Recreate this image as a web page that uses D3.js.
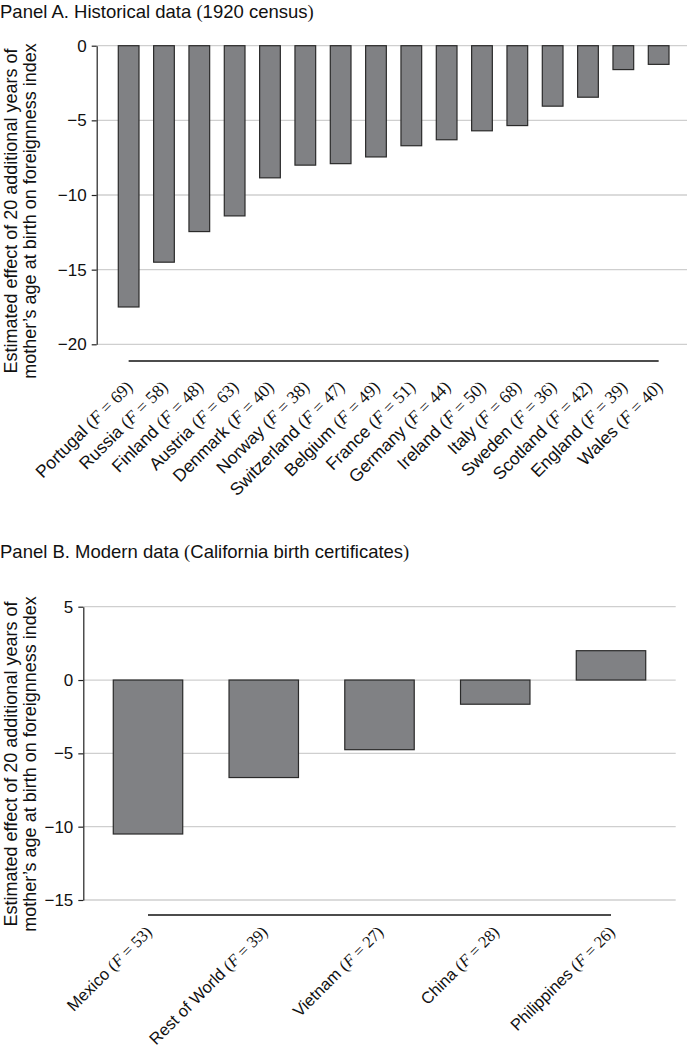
<!DOCTYPE html>
<html>
<head>
<meta charset="utf-8">
<script src="https://cdn.jsdelivr.net/npm/d3@7"></script>
<style>
  html, body { margin: 0; padding: 0; background: #fff; }
  svg { display: block; }
</style>
</head>
<body>
<script>
// ---- Data ----
const catsA = ["Portugal","Russia","Finland","Austria","Denmark","Norway","Switzerland","Belgium","France","Germany","Ireland","Italy","Sweden","Scotland","England","Wales"];
const fA = [69,58,48,63,40,38,47,49,51,44,50,68,36,42,39,40];
const valsA = [-17.5,-14.5,-12.45,-11.4,-8.85,-8.0,-7.9,-7.45,-6.7,-6.3,-5.7,-5.35,-4.05,-3.45,-1.6,-1.25];
const ticksA = [0,-5,-10,-15,-20];

const catsB = ["Mexico","Rest of World","Vietnam","China","Philippines"];
const fB = [53,39,27,28,26];
const valsB = [-10.5,-6.65,-4.75,-1.65,2.0];
const ticksB = [5,0,-5,-10,-15];

const yTitle1 = "Estimated effect of 20 additional years of";
const yTitle2 = "mother\u2019s age at birth on foreignness index";

const W = 687, H = 1050;
const SANS = "'Liberation Sans', Arial, Helvetica, sans-serif";
const SERIF = "'Liberation Serif', 'Times New Roman', serif";

const svg = d3.select("body").append("svg").attr("width", W).attr("height", H);

function panel(cfg) {
  const g = svg.append("g");
  const x = d3.scaleBand().domain(cfg.cats).range(cfg.xRange)
    .paddingInner(cfg.padIn).paddingOuter(cfg.padOut);
  const y = d3.scaleLinear().domain(cfg.yDomain).range(cfg.yRange);

  // title
  const t = g.append("text").attr("x", 0).attr("y", cfg.titleY)
    .attr("font-family", SANS).attr("font-size", 18.5).attr("fill", "#111");
  t.append("tspan").text(cfg.title[0]);
  t.append("tspan").attr("font-family", SERIF).text("(");
  t.append("tspan").text(cfg.title[1]);
  t.append("tspan").attr("font-family", SERIF).text(")");

  // gridlines
  g.append("g").selectAll("line").data(cfg.ticks).join("line")
    .attr("x1", cfg.xRange[0]).attr("x2", cfg.gridEnd)
    .attr("y1", d => y(d)).attr("y2", d => y(d))
    .attr("stroke", "#cfcfcf").attr("stroke-width", 1.3);

  // axis
  const ax = g.append("g").attr("transform", `translate(${cfg.xRange[0]},0)`)
    .call(d3.axisLeft(y).tickValues(cfg.ticks).tickSize(5).tickSizeOuter(0).tickPadding(5));
  ax.select(".domain").attr("stroke", "#222").attr("stroke-width", 1.2);
  ax.selectAll(".tick line").attr("stroke", "#222").attr("stroke-width", 1.2);
  ax.selectAll(".tick text").attr("font-family", SANS).attr("font-size", 17).attr("fill", "#111");

  // bars
  g.append("g").selectAll("rect").data(cfg.vals).join("rect")
    .attr("x", (d, i) => x(cfg.cats[i]))
    .attr("width", x.bandwidth())
    .attr("y", d => y(Math.max(0, d)))
    .attr("height", d => Math.abs(y(d) - y(0)))
    .attr("fill", "#808184").attr("stroke", "#2a2a2a").attr("stroke-width", 1.2);

  // baseline under the axis
  const c0 = x(cfg.cats[0]) + x.bandwidth() / 2;
  const c1 = x(cfg.cats[cfg.cats.length - 1]) + x.bandwidth() / 2;
  g.append("line").attr("x1", c0).attr("x2", c1)
    .attr("y1", cfg.baseY).attr("y2", cfg.baseY)
    .attr("stroke", "#111").attr("stroke-width", 1.6);

  // category labels
  const lab = g.append("g").selectAll("text").data(cfg.cats).join("text")
    .attr("transform", d => `translate(${x(d) + x.bandwidth() / 2 + cfg.labDx},${cfg.baseY + cfg.labDy}) rotate(-45)`)
    .attr("text-anchor", "end")
    .attr("font-family", SANS).attr("font-size", cfg.labFs).attr("fill", "#111");
  lab.append("tspan").text(d => d + " ");
  lab.append("tspan").attr("font-family", SERIF).text("(");
  lab.append("tspan").attr("font-family", SERIF).attr("font-style", "italic").text("F");
  lab.append("tspan").attr("font-family", SERIF).text((d, i) => " = " + cfg.f[i] + ")");

  // y-axis title (two lines)
  const yt = g.append("g").attr("font-family", SANS).attr("font-size", 18).attr("fill", "#111");
  yt.append("text").attr("transform", `translate(16.5,${cfg.yTitleC}) rotate(-90)`)
    .attr("text-anchor", "middle").text(yTitle1);
  yt.append("text").attr("transform", `translate(35.5,${cfg.yTitleC}) rotate(-90)`)
    .attr("text-anchor", "middle").text(yTitle2);
}

panel({
  cats: catsA, f: fA, vals: valsA, ticks: ticksA,
  title: ["Panel A. Historical data ", "1920 census"], titleY: 18,
  xRange: [96.7, 690.6], padIn: 0.414, padOut: 0.611, gridEnd: 687,
  yDomain: [-20, 0], yRange: [344.3, 45.7],
  baseY: 361, labDx: 5, labDy: 27, labFs: 17.5, yTitleC: 211
});

panel({
  cats: catsB, f: fB, vals: valsB, ticks: ticksB,
  title: ["Panel B. Modern data ", "California birth certificates"], titleY: 558,
  xRange: [83.3, 675.7], padIn: 0.4, padOut: 0.259, gridEnd: 675.7,
  yDomain: [-15, 5], yRange: [900, 606.7],
  baseY: 915, labDx: 5, labDy: 18, labFs: 16.5, yTitleC: 764
});
</script>
</body>
</html>
